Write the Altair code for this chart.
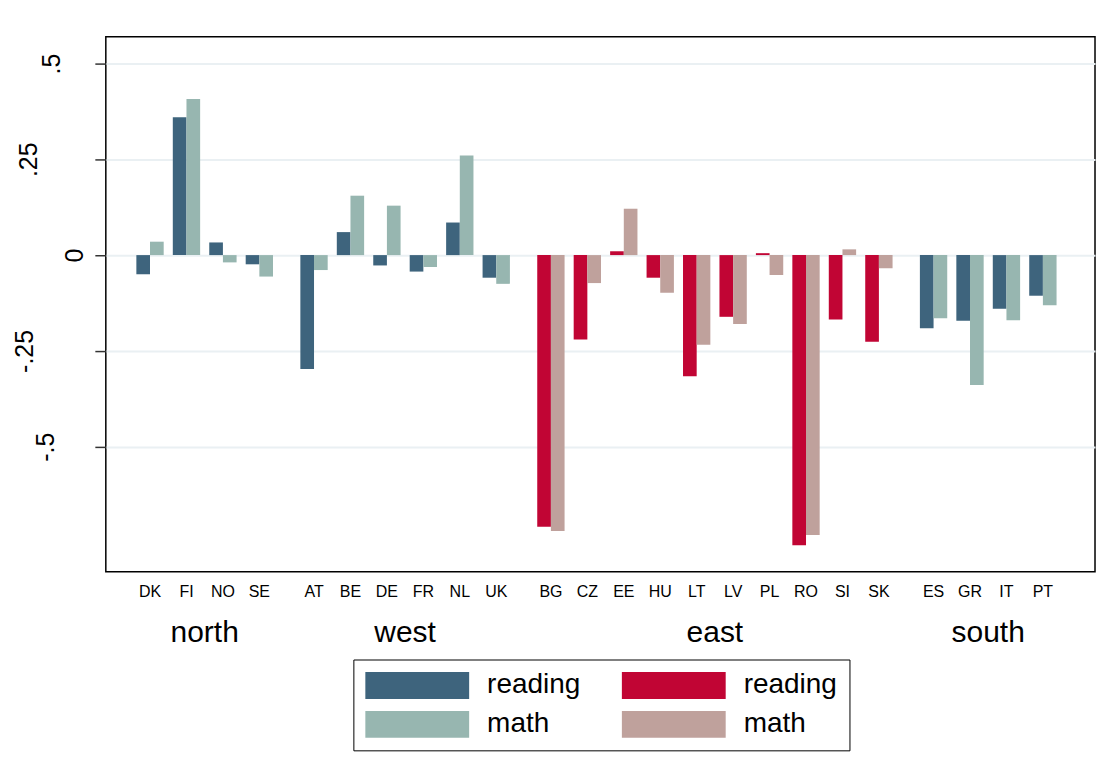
import altair as alt
import pandas as pd

countries = ["DK", "FI", "NO", "SE",
             "AT", "BE", "DE", "FR", "NL", "UK",
             "BG", "CZ", "EE", "HU", "LT", "LV", "PL", "RO", "SI", "SK",
             "ES", "GR", "IT", "PT"]
region_of = (["north"] * 4 + ["west"] * 6 + ["east"] * 10 + ["south"] * 4)
regions = ["north", "west", "east", "south"]
reading = [-0.050, 0.360, 0.033, -0.024,
           -0.297, 0.060, -0.027, -0.043, 0.085, -0.059,
           -0.709, -0.220, 0.010, -0.059, -0.316, -0.161, 0.005, -0.757, -0.168, -0.226,
           -0.191, -0.171, -0.140, -0.106]
math = [0.035, 0.407, -0.019, -0.056,
        -0.039, 0.155, 0.129, -0.031, 0.260, -0.075,
        -0.720, -0.073, 0.121, -0.098, -0.234, -0.180, -0.052, -0.730, 0.015, -0.034,
        -0.165, -0.339, -0.170, -0.131]
y_ticks = [-0.5, -0.25, 0, 0.25, 0.5]
y_tick_labels = ["-.5", "-.25", "0", ".25", ".5"]

df = pd.DataFrame({"country": countries, "region": region_of,
                   "reading": reading, "math": math})

FONT = "Liberation Sans"
BAR = 0.375
region_list = "[" + ",".join(f"'{r}'" for r in regions) + "]"

label_expr = " : ".join(
    f"datum.value == {v} ? '{l}'" for v, l in zip(y_ticks, y_tick_labels)
) + " : ''"
pad_map = {"-.5": 41, "-.25": 62, "0": 12, ".25": 58, ".5": 35}
label_pad = {
    "condition": [{"test": f"datum.value == {v}", "value": pad_map[l]}
                  for v, l in zip(y_ticks, y_tick_labels)],
    "value": 20,
}

base = alt.Chart(df).transform_window(
    rn="row_number()"
).transform_calculate(
    slot=f"datum.rn - 1 + 0.5 * indexof({region_list}, datum.region)"
)

xscale = alt.Scale(domain=[-1.213, 25.93], nice=False, zero=False)
yscale = alt.Scale(domain=[-0.826, 0.570], nice=False, zero=False)

series_domain = ["O_reading", "O_math", "E_reading", "E_math"]
series_range = ["#3E647D", "#97B6B0", "#C10534", "#BFA19C"]

bars = base.transform_fold(
    ["reading", "math"], as_=["subject", "value"]
).transform_calculate(
    series="(datum.region == 'east' ? 'E' : 'O') + '_' + datum.subject",
    x0=f"datum.slot + (datum.subject == 'reading' ? -{BAR} : 0)",
    x1=f"datum.slot + (datum.subject == 'reading' ? 0 : {BAR})",
    zero="0",
).mark_bar(stroke=None).encode(
    x=alt.X("x0:Q", scale=xscale, axis=None),
    x2="x1:Q",
    y=alt.Y("value:Q", scale=yscale,
            axis=alt.Axis(values=y_ticks, labelExpr=label_expr, title=None,
                          tickSize=11, tickColor="#333333", tickWidth=1.5,
                          domain=False, grid=True, gridColor="#EAF0F3",
                          gridWidth=2, labelFontSize=25, labelFont=FONT,
                          labelColor="#000000", labelAngle=270,
                          labelAlign="center", labelBaseline="alphabetic",
                          labelPadding=label_pad)),
    y2=alt.Y2("zero:Q"),
    color=alt.Color("series:N",
                    scale=alt.Scale(domain=series_domain, range=series_range),
                    legend=alt.Legend(
                        title=None, orient="none", legendX=248, legendY=624,
                        columns=2, direction="vertical",
                        labelExpr="split(datum.label, '_')[1]",
                        labelFontSize=28, labelFont=FONT, labelColor="#000000",
                        symbolType="M-3.852,-1H3.852V1H-3.852Z",
                        symbolSize=729, symbolStrokeWidth=0,
                        symbolOpacity=1, symbolOffset=38,
                        labelOffset=56, rowPadding=11, columnPadding=40,
                        padding=12, strokeColor="#000000", fillColor="#FFFFFF",
                    )),
)

country_text = base.mark_text(fontSize=16, font=FONT, color="#000000",
                              baseline="middle", align="center").encode(
    x=alt.X("slot:Q", scale=xscale),
    y=alt.value(556),
    text="country:N",
)

region_text = base.transform_aggregate(
    mid="mean(slot)", groupby=["region"]
).mark_text(fontSize=30, font=FONT, color="#000000",
            baseline="middle", align="center").encode(
    x=alt.X("mid:Q", scale=xscale),
    y=alt.value(597),
    text="region:N",
)

chart = alt.layer(bars, country_text, region_text).properties(
    width=991, height=536,
    autosize=alt.AutoSizeParams(type="none"),
    padding={"left": 98, "top": 28, "right": 5, "bottom": 200},
    background="#FFFFFF",
).configure_view(
    stroke="#000000", strokeWidth=1.5, fill="#FFFFFF"
)

chart.save("out.html", embed_options={"renderer": "svg", "actions": False})
